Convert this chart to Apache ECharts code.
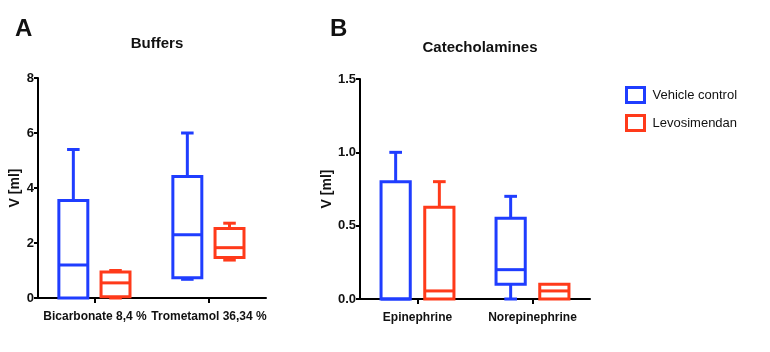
<!DOCTYPE html>
<html><head><meta charset="utf-8">
<script src="https://cdn.jsdelivr.net/npm/echarts@6/dist/echarts.min.js"></script>
<style>html,body{margin:0;padding:0;background:#fff}#c{width:770px;height:352px}</style>
</head><body><div id="c"></div>
<script>
// Data
const buffersCategories = ['Bicarbonate 8,4 %', 'Trometamol 36,34 %'];
const catecholCategories = ['Epinephrine', 'Norepinephrine'];
// [categoryIndex, min, Q1, median, Q3, max]
const buffersVehicle = [[0, 0, 0, 1.2, 3.55, 5.4], [1, 0.68, 0.74, 2.3, 4.42, 6.0]];
const buffersLevo = [[0, 0, 0.05, 0.55, 0.95, 1.0], [1, 1.38, 1.47, 1.83, 2.53, 2.72]];
const catecholVehicle = [[0, 0, 0, 0, 0.8, 1.0], [1, 0, 0.1, 0.2, 0.55, 0.7]];
const catecholLevo = [[0, 0, 0, 0.055, 0.625, 0.8], [1, 0, 0, 0.055, 0.1, 0.1]];
const buffersTicks = [0, 2, 4, 6, 8];
const catecholTicks = [0, 0.5, 1.0, 1.5];
const seriesNames = ['Vehicle control', 'Levosimendan'];

const BLUE = '#1f3dff';
const RED = '#ff3a1a';
const FONT = '"Liberation Sans", Arial, sans-serif';

function makeRender(color, offFrac) {
  return function (params, api) {
    const cat = api.value(0);
    const mn = api.value(1), q1 = api.value(2), md = api.value(3), q3 = api.value(4), mx = api.value(5);
    const bw = api.size([1, 0])[0];
    const cx = api.coord([cat, 0])[0] + offFrac * bw;
    const hw = bw * 0.127;
    const cw = bw * 0.055;
    const y = v => api.coord([cat, v])[1];
    const st = { stroke: color, lineWidth: 3, fill: null };
    const ch = [];
    if (mx > q3) {
      ch.push({ type: 'line', shape: { x1: cx, y1: y(q3), x2: cx, y2: y(mx) }, style: st });
      ch.push({ type: 'line', shape: { x1: cx - cw, y1: y(mx), x2: cx + cw, y2: y(mx) }, style: st });
    }
    if (mn < q1) {
      ch.push({ type: 'line', shape: { x1: cx, y1: y(q1), x2: cx, y2: y(mn) }, style: st });
      ch.push({ type: 'line', shape: { x1: cx - cw, y1: y(mn), x2: cx + cw, y2: y(mn) }, style: st });
    }
    ch.push({ type: 'rect', shape: { x: cx - hw, y: y(q3), width: 2 * hw, height: y(q1) - y(q3) }, style: { stroke: color, lineWidth: 3, fill: 'rgba(0,0,0,0)' } });
    ch.push({ type: 'line', shape: { x1: cx - hw, y1: y(md), x2: cx + hw, y2: y(md) }, style: st });
    return { type: 'group', children: ch };
  };
}

function xAxisFor(idx, cats) {
  return {
    type: 'category', gridIndex: idx, data: cats, boundaryGap: true,
    axisLine: { lineStyle: { color: '#000', width: 2 } },
    axisTick: { show: true, alignWithLabel: true, length: 5, lineStyle: { color: '#000', width: 2 } },
    axisLabel: { interval: 0, color: '#111', fontFamily: FONT, fontWeight: 'bold', fontSize: 12, margin: 13 },
    splitLine: { show: false }
  };
}
function yAxisFor(idx, ticks, fmt, gap) {
  return {
    type: 'value', gridIndex: idx, min: ticks[0], max: ticks[ticks.length - 1],
    interval: ticks[1] - ticks[0],
    name: 'V [ml]', nameLocation: 'middle', nameGap: gap, nameRotate: 90,
    nameTextStyle: { color: '#111', fontFamily: FONT, fontWeight: 'bold', fontSize: 14 },
    axisLine: { show: true, lineStyle: { color: '#000', width: 2 } },
    axisTick: { show: true, length: 4, lineStyle: { color: '#000', width: 2 } },
    axisLabel: { color: '#111', fontFamily: FONT, fontWeight: 'bold', fontSize: 13, margin: 4, formatter: fmt },
    splitLine: { show: false }
  };
}

const chart = echarts.init(document.getElementById('c'), null, { renderer: 'canvas' });
chart.setOption({
  backgroundColor: '#fff',
  animation: false,
  title: [
    { text: 'A', left: 10, top: 12, textStyle: { fontFamily: FONT, fontWeight: 'bold', fontSize: 24, color: '#111' } },
    { text: 'Buffers', left: 152, textAlign: 'center', top: 31, textStyle: { fontFamily: FONT, fontWeight: 'bold', fontSize: 15, color: '#111' } },
    { text: 'B', left: 325, top: 12, textStyle: { fontFamily: FONT, fontWeight: 'bold', fontSize: 24, color: '#111' } },
    { text: 'Catecholamines', left: 475, textAlign: 'center', top: 35, textStyle: { fontFamily: FONT, fontWeight: 'bold', fontSize: 15, color: '#111' } }
  ],
  legend: {
    orient: 'vertical', left: 620, top: 81, itemWidth: 18, itemHeight: 15, itemGap: 10,
    textStyle: { fontFamily: FONT, fontSize: 13, color: '#111', padding: [0, 0, 0, 3] },
    data: [
      { name: seriesNames[0], icon: 'rect', itemStyle: { color: '#fff', borderColor: BLUE, borderWidth: 3 } },
      { name: seriesNames[1], icon: 'rect', itemStyle: { color: '#fff', borderColor: RED, borderWidth: 3 } }
    ]
  },
  grid: [
    { left: 38, width: 228, top: 78, bottom: 54 },
    { left: 360, width: 230, top: 79, bottom: 53 }
  ],
  xAxis: [xAxisFor(0, buffersCategories), xAxisFor(1, catecholCategories)],
  yAxis: [yAxisFor(0, buffersTicks, v => String(v), 16), yAxisFor(1, catecholTicks, v => v.toFixed(1), 25)],
  series: [
    { name: seriesNames[0], type: 'custom', xAxisIndex: 0, yAxisIndex: 0, renderItem: makeRender(BLUE, -0.19), data: buffersVehicle, encode: { x: 0, y: [1, 2, 3, 4, 5] }, itemStyle: { color: BLUE }, z: 5, clip: false },
    { name: seriesNames[1], type: 'custom', xAxisIndex: 0, yAxisIndex: 0, renderItem: makeRender(RED, 0.18), data: buffersLevo, encode: { x: 0, y: [1, 2, 3, 4, 5] }, itemStyle: { color: RED }, z: 5, clip: false },
    { name: seriesNames[0], type: 'custom', xAxisIndex: 1, yAxisIndex: 1, renderItem: makeRender(BLUE, -0.19), data: catecholVehicle, encode: { x: 0, y: [1, 2, 3, 4, 5] }, itemStyle: { color: BLUE }, z: 5, clip: false },
    { name: seriesNames[1], type: 'custom', xAxisIndex: 1, yAxisIndex: 1, renderItem: makeRender(RED, 0.19), data: catecholLevo, encode: { x: 0, y: [1, 2, 3, 4, 5] }, itemStyle: { color: RED }, z: 5, clip: false }
  ]
});
</script></body></html>
